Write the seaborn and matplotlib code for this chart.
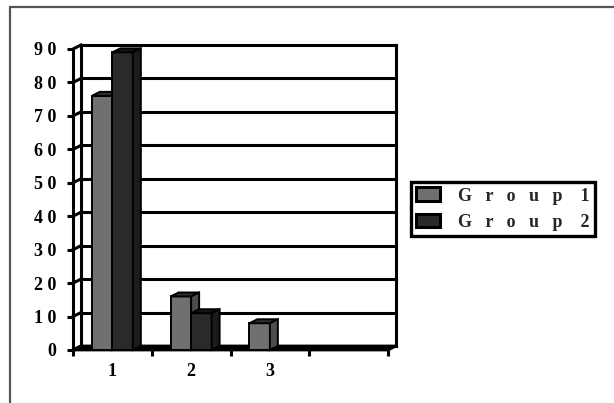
import numpy as np
import pandas as pd
import matplotlib
matplotlib.use("Agg")
import matplotlib.pyplot as plt
import seaborn as sns
from matplotlib.patches import Polygon, Patch
from matplotlib.lines import Line2D

# ---- data ----
categories = ["1", "2", "3"]
group_names = ["Group 1", "Group 2"]
group1 = [76, 16, 8]
group2 = [89, 11, 0]
y_ticks = [0, 10, 20, 30, 40, 50, 60, 70, 80, 90]
n_slots = 4  # category slots on the floor (last one empty)

df = pd.DataFrame({
    "category": categories * 2,
    "group": [group_names[0]] * len(categories) + [group_names[1]] * len(categories),
    "value": group1 + group2,
})

front_colors = {"Group 1": "#707070", "Group 2": "#2a2a2a"}
side_colors = {"Group 1": "#4d4d4d", "Group 2": "#1c1c1c"}
top_colors = {"Group 1": "#2e2e2e", "Group 2": "#141414"}

DEPTH = np.array([8.0, 4.0])  # pixel offset of the back wall
BAR_DEPTH = np.array([8.0, 4.0])
LINE_W = 2.2

sns.set_theme(style="white")
plt.rcParams["font.family"] = ["Liberation Serif", "DejaVu Serif"]
plt.rcParams["font.weight"] = "bold"

W, H = 614, 403
fig = plt.figure(figsize=(W / 100, H / 100), dpi=100)
fig.patch.set_facecolor("white")
ax = fig.add_axes([73 / W, 53 / H, 315 / W, 301 / H])

sns.barplot(data=df, x="category", y="value", hue="group",
            order=categories, hue_order=group_names, palette=front_colors,
            width=0.52, saturation=1, edgecolor="black", linewidth=1.4,
            legend=False, ax=ax)

x_lo, x_hi = -0.5, n_slots - 0.5
ax.set_xlim(x_lo, x_hi)
ax.set_ylim(y_ticks[0], y_ticks[-1])
ax.set_facecolor("none")
for s in ax.spines.values():
    s.set_visible(False)
ax.set_xlabel("")
ax.set_ylabel("")


def shifted(x, y, d):
    px = ax.transData.transform((x, y))
    return tuple(ax.transData.inverted().transform(px + d))


def line(p, q, z=2, lw=LINE_W):
    ax.add_line(Line2D([p[0], q[0]], [p[1], q[1]], color="black", lw=lw,
                       solid_capstyle="projecting", zorder=z, clip_on=False))


# back wall gridlines and edges
for v in y_ticks:
    line(shifted(x_lo, v, DEPTH), shifted(x_hi, v, DEPTH))
    line((x_lo, v), shifted(x_lo, v, DEPTH))
line(shifted(x_lo, 0, DEPTH), shifted(x_lo, y_ticks[-1], DEPTH))
line(shifted(x_hi, 0, DEPTH), shifted(x_hi, y_ticks[-1], DEPTH))
line((x_lo, 0), (x_lo, y_ticks[-1]), z=3)

# floor
floor = [(x_lo, 0), (x_hi, 0), shifted(x_hi, 0, DEPTH), shifted(x_lo, 0, DEPTH)]
ax.add_patch(Polygon(floor, closed=True, facecolor="black", edgecolor="black",
                     lw=2.0, zorder=3, clip_on=False))

# 3D faces on the seaborn bars
bars = sorted([p for p in ax.patches if not isinstance(p, Polygon)],
              key=lambda p: p.get_x())
g1_rgb = matplotlib.colors.to_rgb(front_colors[group_names[0]])
for i, bar in enumerate(bars):
    h = bar.get_height()
    if h <= 0:
        bar.set_visible(False)
        continue
    name = group_names[0] if np.allclose(bar.get_facecolor()[:3], g1_rgb) else group_names[1]
    x0, w = bar.get_x(), bar.get_width()
    z = 5 + i
    bar.set_zorder(z)
    top = [(x0, h), (x0 + w, h), shifted(x0 + w, h, BAR_DEPTH), shifted(x0, h, BAR_DEPTH)]
    side = [(x0 + w, 0), (x0 + w, h), shifted(x0 + w, h, BAR_DEPTH), shifted(x0 + w, 0, BAR_DEPTH)]
    ax.add_patch(Polygon(top, closed=True, facecolor=top_colors[name], edgecolor="black",
                         lw=1.4, zorder=z, clip_on=False))
    ax.add_patch(Polygon(side, closed=True, facecolor=side_colors[name], edgecolor="black",
                         lw=1.4, zorder=z, clip_on=False))

# ticks and labels
ax.set_yticks(y_ticks)
ax.set_yticklabels([" ".join(str(v)) for v in y_ticks])
ax.tick_params(axis="y", which="major", left=True, length=4, width=LINE_W,
               color="black", pad=8, labelsize=13, labelcolor="black")
ax.set_xticks(range(len(categories)))
ax.set_xticklabels(categories)
ax.set_xticks(np.arange(x_lo, x_hi + 0.01, 1.0), minor=True)
ax.tick_params(axis="x", which="major", bottom=False, length=0, pad=9,
               labelsize=13, labelcolor="black")
ax.tick_params(axis="x", which="minor", bottom=True, length=4, width=LINE_W,
               color="black")
for lab in ax.get_yticklabels() + ax.get_xticklabels():
    lab.set_fontweight("bold")

# legend
handles = [Patch(facecolor=front_colors[g], edgecolor="black", lw=2.2) for g in group_names]
labels = ["   ".join(g.split(" ")[0]) + "    " + g.split(" ")[1] for g in group_names]
leg = fig.legend(handles, labels, loc="upper left",
                 bbox_to_anchor=(411 / W, 1 - 182 / H), bbox_transform=fig.transFigure,
                 frameon=True, fancybox=False, edgecolor="black", framealpha=1,
                 borderpad=0.3, handlelength=1.3, handleheight=0.8,
                 handletextpad=1.0, labelspacing=0.5, borderaxespad=0,
                 prop={"family": "Liberation Serif", "weight": "bold", "size": 13})
leg.get_frame().set_linewidth(2.4)

# outer frame
fig.add_artist(Line2D([10 / W, 10 / W], [0, 1 - 7 / H], transform=fig.transFigure,
                      color="#555555", lw=1.6))
fig.add_artist(Line2D([10 / W, 1], [1 - 7 / H, 1 - 7 / H], transform=fig.transFigure,
                      color="#555555", lw=1.6))

fig.savefig("out.png", dpi=100, facecolor="white")
